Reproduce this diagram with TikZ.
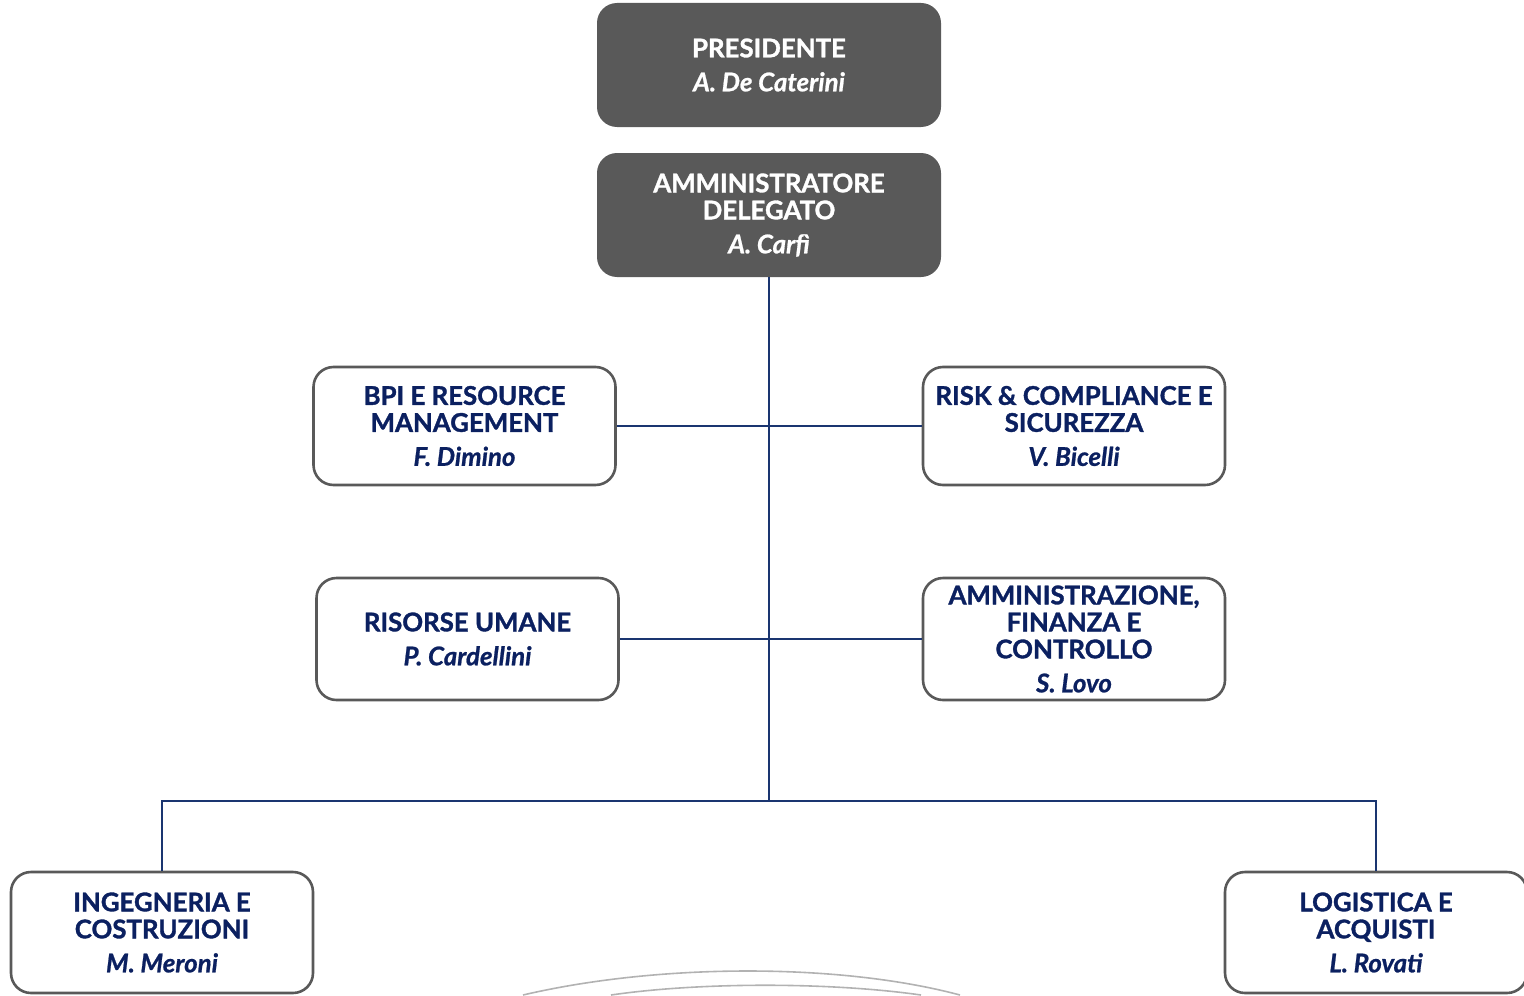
\documentclass[tikz,border=0pt]{standalone}
\usepackage{fontspec}
\setmainfont{Lato}[BoldFeatures={FakeBold=1.3},BoldItalicFeatures={FakeBold=0.8}]
\usepackage{xcolor}
\definecolor{navy}{HTML}{0B2060}
\definecolor{boxgray}{HTML}{595959}
\definecolor{linenavy}{HTML}{1A3570}

\begin{document}
\begin{tikzpicture}%
  [x=0.5pt,y=-0.5pt]
  \tikzstyle{top node}=[rectangle,rounded corners=10pt,fill=boxgray,text=white,
    minimum width=172pt,minimum height=62pt,align=center,inner sep=0,
    font=\fontsize{12.9}{13.5}\selectfont\bfseries]
  \tikzstyle{unit node}=[rectangle,rounded corners=10pt,draw=boxgray,line width=1.3pt,
    fill=white,text=navy,minimum width=151pt,minimum height=59pt,align=center,inner sep=0,
    font=\fontsize{12.9}{13.5}\selectfont\bfseries]
  \tikzstyle{link}=[draw=linenavy,line width=0.8pt]
  \useasboundingbox (0,0) rectangle (1524,995);
  % vertici
  \node(pres)[top node] at (769,65) {PRESIDENTE\\[3.5pt]\itshape A. De Caterini};
  \node(ad)[top node] at (769,215) {AMMINISTRATORE\\DELEGATO\\[3.5pt]\itshape A. Carfì};
  % staff
  \node(bpi)[unit node] at (464.5,426) {BPI E RESOURCE\\MANAGEMENT\\[3.5pt]\itshape F. Dimino};
  \node(risk)[unit node] at (1074,426) {RISK \& COMPLIANCE E\\SICUREZZA\\[3.5pt]\itshape V. Bicelli};
  \node(hr)[unit node,minimum height=61pt] at (467.5,639) {RISORSE UMANE\\[3.5pt]\itshape P. Cardellini};
  \node(afc)[unit node,minimum height=61pt] at (1074,639) {AMMINISTRAZIONE,\\FINANZA E\\CONTROLLO\\[3.5pt]\itshape S. Lovo};
  % linee
  \node(ing)[unit node,minimum height=60.5pt] at (162,932.5) {INGEGNERIA E\\COSTRUZIONI\\[3.5pt]\itshape M. Meroni};
  \node(log)[unit node,minimum height=60.5pt] at (1376,932.5) {LOGISTICA E\\ACQUISTI\\[3.5pt]\itshape L. Rovati};
  \coordinate(hub) at (769,801);
  \draw[link] (ad.south) -- (hub);
  \draw[link] (bpi.east) -- (risk.west);
  \draw[link] (hr.east) -- (afc.west);
  \draw[link] (ing.north) |- (hub) -| (log.north);
  % filigrana
  \draw[gray!60,line width=0.8pt] (523,995) .. controls (660,963) and (840,963) .. (960,995);
  \draw[gray!60,line width=0.8pt] (611,995) .. controls (700,982) and (830,982) .. (921,995);
\end{tikzpicture}
\end{document}
